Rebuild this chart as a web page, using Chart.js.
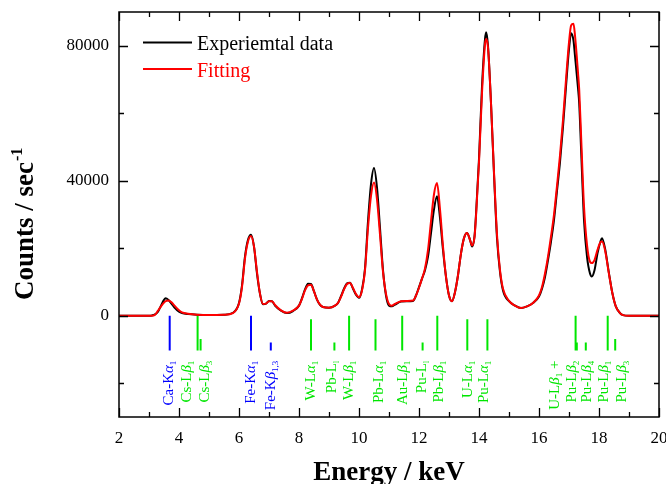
<!DOCTYPE html>
<html><head><meta charset="utf-8">
<script src="https://cdn.jsdelivr.net/npm/chart.js@4.4.1/dist/chart.umd.min.js"></script>
<style>html,body{margin:0;padding:0;background:#fff}#wrap{width:666px;height:484px;position:relative}</style>
</head><body><div id="wrap"><canvas id="c" width="666" height="484"></canvas></div>
<script>
// ---------- data ----------
const energy = [2.0,2.5,3.0,3.1,3.2,3.3,3.4,3.5,3.55,3.65,3.75,3.85,4.0,4.1,4.3,4.6,5.0,5.5,5.8,
  6.0,6.1,6.2,6.3,6.4,6.5,6.6,6.7,6.8,6.9,7.0,7.1,7.2,7.4,7.6,7.8,
  8.0,8.1,8.2,8.3,8.4,8.5,8.6,8.7,8.8,9.0,9.2,9.3,9.4,9.5,9.6,9.7,9.8,9.9,
  10.0,10.1,10.2,10.3,10.4,10.5,10.6,10.7,10.8,10.9,11.0,11.1,11.2,11.4,11.6,11.8,11.9,
  12.0,12.1,12.2,12.3,12.4,12.5,12.6,12.7,12.8,12.9,13.0,13.1,13.2,13.3,13.4,13.5,13.6,13.7,13.77,13.85,13.9,
  14.0,14.1,14.2,14.24,14.3,14.4,14.5,14.6,14.7,14.8,15.0,15.2,15.4,15.6,15.8,
  16.0,16.1,16.2,16.3,16.4,16.5,16.6,16.7,16.8,16.9,17.0,17.07,17.15,17.2,17.3,17.34,17.4,17.5,17.6,17.7,17.76,17.85,17.95,
  18.05,18.1,18.2,18.33,18.45,18.56,18.7,18.8,19.0,20.0];
const experimental = [0,0,0,100,400,1200,3000,4700,5200,4700,3600,2400,1200,800,500,300,200,300,900,
  3800,9000,17600,22500,24000,20500,12500,6500,3400,3600,4400,4300,3000,1500,800,1400,
  3000,5200,7800,9500,9400,7200,4800,3200,2600,2400,3000,3800,5800,8000,9600,9800,8000,6200,
  5300,7800,14000,28000,39000,43800,38000,26000,13500,6000,3000,2800,3300,4200,4300,4400,6000,
  8500,11000,13500,17500,24500,31500,35400,29000,19500,11500,6000,4300,7000,12000,18500,23000,24500,22500,20500,23500,30000,
  46500,68000,82000,84000,80000,63000,42000,23000,13000,7500,4300,3000,2300,2800,3800,
  5700,8000,11500,16500,22000,28400,37000,45500,56000,67900,79000,83700,81500,77000,67500,63000,50000,28400,17500,12500,11650,13500,18500,
  22000,23000,20000,12700,6500,2760,800,200,0,0];
const fitting = [0,0,0,0,300,1500,2800,3900,4300,4550,4000,3000,1600,1000,600,300,200,300,800,
  3600,8500,17000,22000,23600,20500,13000,6500,3500,3600,4300,4300,3200,1600,900,1500,
  3000,5000,7500,9000,9200,7200,4800,3300,2600,2400,3000,3800,5600,7800,9400,9700,8200,6400,
  5500,7500,13500,26000,35500,39500,34500,24000,13000,6500,3500,3000,3500,4300,4400,4500,6000,
  8300,11000,14000,19500,28000,36000,39300,31500,20500,11500,6000,4300,7000,12000,18500,23000,24500,22500,20800,23300,29500,
  45500,66000,80500,82000,79500,63000,42500,24000,13500,8000,4400,3000,2300,2800,3800,
  6000,8500,12500,17500,23500,30000,38500,47500,58000,70000,81000,86000,86500,83000,72000,67000,54000,32400,21000,16000,15600,16500,19500,
  21800,22000,19500,12500,6500,2800,800,200,0,0];

// characteristic X-ray lines (keV), their marker top value and family
const lineEnergy = [3.69,4.62,4.72,6.40,7.06,8.40,9.18,9.67,10.55,11.44,12.12,12.61,13.61,14.28,17.22,17.26,17.56,18.29,18.54];
const lineTop    = [0,0,-6900,0,-7900,-1000,-7900,0,-1000,0,-7900,0,-1000,-1000,0,-7900,-7900,0,-6900];
const lineBottom = -10300;
const lineFamily = ['K','L','L','K','K','L','L','L','L','L','L','L','L','L','L','L','L','L','L'];
// label: [prefix, greek, subscript, suffix]
const lineNames = [
  ['Ca-K','α','1',''],['Cs-L','β','1',''],['Cs-L','β','3',''],['Fe-K','α','1',''],['Fe-K','β','1,3',''],
  ['W-L','α','1',''],['Pb-L','','l',''],['W-L','β','1',''],['Pb-L','α','1',''],['Au-L','β','1',''],
  ['Pu-L','','l',''],['Pb-L','β','1',''],['U-L','α','1',''],['Pu-L','α','1',''],['U-L','β','1',' +'],
  ['Pu-L','β','2',''],['Pu-L','β','4',''],['Pu-L','β','1',''],['Pu-L','β','3','']];
const labelEnergy = [3.66,4.28,4.86,6.41,7.07,8.40,9.10,9.68,10.65,11.46,12.10,12.65,13.62,14.18,16.54,17.09,17.61,18.17,18.75];
const labelTopValue = -13300;

const seriesNames = ['Fitting','Experiemtal data'];
const xTicks = [2,3,4,5,6,7,8,9,10,11,12,13,14,15,16,17,18,19,20];
const xTickLabels = [2,4,6,8,10,12,14,16,18,20];
const yTicks = [-20000,0,20000,40000,60000,80000];
const yTickLabels = [0,40000,80000];

// ---------- styles ----------
const FAMILY_COLOR = {K:'#0000ff', L:'#00e600'};
const SERIF = '"Liberation Serif", "Times New Roman", serif';

function markerData(fam){
  const d = [];
  lineEnergy.forEach((e,i)=>{
    if (lineFamily[i]!==fam) return;
    d.push({x:e,y:lineTop[i]},{x:e,y:lineBottom},{x:e,y:null});
  });
  return d;
}

const frameTicks = {
  id:'frameTicks',
  afterDatasetsDraw(chart){
    const {ctx, chartArea:a, scales:{x,y}} = chart;
    ctx.save();
    ctx.strokeStyle='#000'; ctx.lineWidth=1.5;
    ctx.strokeRect(a.left, a.top, a.right-a.left, a.bottom-a.top);
    ctx.lineWidth=1.3;
    ctx.beginPath();
    xTicks.forEach(v=>{
      const px = Math.round(x.getPixelForValue(v))+0.5;
      const len = xTickLabels.includes(v)?9:5;
      ctx.moveTo(px,a.bottom); ctx.lineTo(px,a.bottom-len);
      ctx.moveTo(px,a.top); ctx.lineTo(px,a.top+len);
    });
    yTicks.forEach(v=>{
      const py = Math.round(y.getPixelForValue(v))+0.5;
      const len = (v%40000===0)?9:5;
      ctx.moveTo(a.left,py); ctx.lineTo(a.left+len,py);
      ctx.moveTo(a.right,py); ctx.lineTo(a.right-len,py);
    });
    ctx.stroke();

    // line labels
    ctx.textBaseline='alphabetic';
    lineNames.forEach((nm,i)=>{
      const [pre,gr,sub,suf] = nm;
      const parts=[{t:pre,f:'15px '+SERIF,dy:0}];
      if (gr) parts.push({t:gr,f:'italic 15px '+SERIF,dy:0});
      if (sub) parts.push({t:sub,f:'9px '+SERIF,dy:3});
      if (suf) parts.push({t:suf,f:'15px '+SERIF,dy:0});
      let w=0; parts.forEach(p=>{ctx.font=p.f; p.w=ctx.measureText(p.t).width; w+=p.w;});
      const px = x.getPixelForValue(labelEnergy[i]);
      const py = y.getPixelForValue(labelTopValue);
      ctx.save();
      ctx.translate(px+4, py);
      ctx.rotate(-Math.PI/2);
      ctx.fillStyle = FAMILY_COLOR[lineFamily[i]];
      let cx=-w;
      parts.forEach(p=>{ctx.font=p.f; ctx.fillText(p.t,cx,p.dy); cx+=p.w;});
      ctx.restore();
    });
    ctx.restore();
  },
  afterDraw(chart){
    const {ctx, chartArea:a} = chart;
    ctx.save();
    // legend
    const ds = [chart.data.datasets[1], chart.data.datasets[0]];
    ds.forEach((d,i)=>{
      const yy = a.top + 30.5 + i*26.6;
      ctx.strokeStyle=d.borderColor; ctx.lineWidth=2;
      ctx.beginPath(); ctx.moveTo(a.left+24,yy); ctx.lineTo(a.left+73,yy); ctx.stroke();
      ctx.fillStyle=d.borderColor; ctx.font='20px '+SERIF; ctx.textBaseline='alphabetic'; ctx.textAlign='left';
      ctx.fillText(d.label, a.left+78, yy+7.5);
    });
    // axis titles
    ctx.fillStyle='#000';
    ctx.font='bold 27px '+SERIF; ctx.textAlign='center';
    ctx.fillText('Energy / keV',(a.left+a.right)/2, 480);
    ctx.save();
    ctx.translate(33,300); ctx.rotate(-Math.PI/2);
    ctx.textAlign='left';
    ctx.font='bold 27px '+SERIF;
    const w = ctx.measureText('Counts / sec').width;
    ctx.fillText('Counts / sec',0,0);
    ctx.font='bold 16px '+SERIF;
    ctx.fillText('-1',w+1,-11);
    ctx.restore();
    ctx.restore();
  }
};

new Chart(document.getElementById('c'),{
  type:'line',
  data:{datasets:[
    {label:seriesNames[0], data:energy.map((e,i)=>({x:e,y:fitting[i]})), borderColor:'#ff0000', borderWidth:2, pointRadius:0, cubicInterpolationMode:'monotone', fill:false},
    {label:seriesNames[1], data:energy.map((e,i)=>({x:e,y:experimental[i]})), borderColor:'#000000', borderWidth:2, pointRadius:0, cubicInterpolationMode:'monotone', fill:false},
    {label:'K lines', data:markerData('K'), borderColor:FAMILY_COLOR.K, borderWidth:2, pointRadius:0, spanGaps:false, tension:0},
    {label:'L lines', data:markerData('L'), borderColor:FAMILY_COLOR.L, borderWidth:2, pointRadius:0, spanGaps:false, tension:0}
  ]},
  options:{
    responsive:false, animation:false, devicePixelRatio:1,
    layout:{padding:{left:0,right:7,top:12,bottom:0}},
    plugins:{legend:{display:false}, tooltip:{enabled:false}},
    scales:{
      x:{type:'linear', min:2, max:20,
        afterBuildTicks:s=>{s.ticks = xTicks.map(v=>({value:v}));},
        ticks:{autoSkip:false, maxRotation:0, color:'#000', padding:11, font:{family:SERIF,size:17},
          callback:v=> xTickLabels.includes(v)? String(v):''},
        grid:{display:false, drawTicks:false}, border:{display:false},
        afterFit:s=>{s.height=67; s.paddingLeft=0; s.paddingRight=0;}
      },
      y:{type:'linear', min:-30000, max:90000,
        afterBuildTicks:s=>{s.ticks = yTicks.map(v=>({value:v}));},
        ticks:{autoSkip:false, color:'#000', padding:10, font:{family:SERIF,size:17},
          callback:v=> yTickLabels.includes(v)? String(v):''},
        grid:{display:false, drawTicks:false}, border:{display:false},
        afterFit:s=>{s.width=119; s.paddingTop=0; s.paddingBottom=0;}
      }
    }
  },
  plugins:[frameTicks]
});
</script></body></html>
